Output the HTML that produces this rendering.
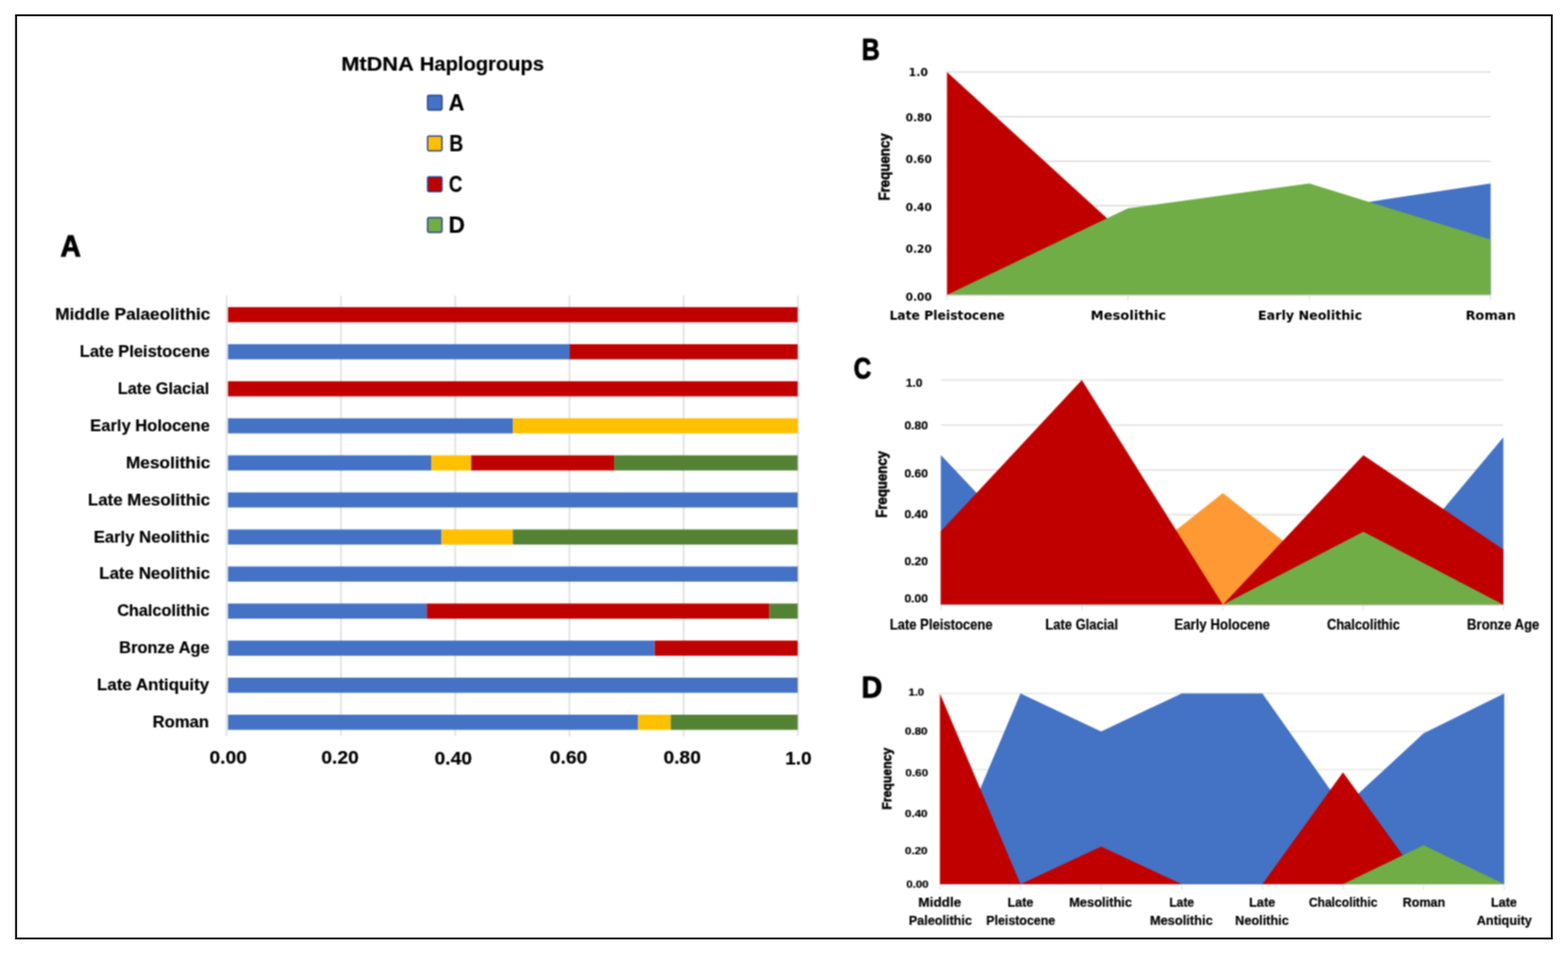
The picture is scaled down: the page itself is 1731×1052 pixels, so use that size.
<!DOCTYPE html>
<html lang="en"><head><meta charset="utf-8"><title>MtDNA Haplogroups</title>
<style>
html,body{margin:0;padding:0;background:#fff;}
body{width:1731px;height:1052px;overflow:hidden;}
svg{display:block;}
text{fill:#000;font-weight:bold;stroke:#000;stroke-width:0.2px;stroke-linejoin:round;}
.l{font-family:"Liberation Sans",sans-serif;}
.f{stroke-width:0.6px;}
.d{font-family:"DejaVu Sans","Liberation Sans",sans-serif;stroke-width:0;}
</style></head><body>
<svg width="1731" height="1052" viewBox="0 0 1731 1052">
<defs><filter id="soft" x="0" y="0" width="1731" height="1052" filterUnits="userSpaceOnUse" color-interpolation-filters="sRGB"><feConvolveMatrix order="3" kernelMatrix="1 2 1 2 4 2 1 2 1" divisor="16" edgeMode="duplicate" preserveAlpha="true"/></filter></defs>
<g filter="url(#soft)">
<rect x="-5" y="-5" width="1741" height="1062" fill="#fff"/>
<text class="l" font-size="21.6"><tspan x="376.7" y="78.3" textLength="79.2" lengthAdjust="spacingAndGlyphs">MtDNA</tspan> <tspan x="463.5" y="78.3" textLength="137.0" lengthAdjust="spacingAndGlyphs">Haplogroups</tspan></text>
<rect x="472.1" y="105.2" width="15.8" height="16.2" rx="1.3" fill="#4472C4" stroke="#223E88" stroke-width="1.5"/>
<text class="l" x="495.3" y="121.9" font-size="25.0" textLength="17.5" lengthAdjust="spacingAndGlyphs">A</text>
<rect x="472.1" y="150.2" width="15.8" height="16.2" rx="1.3" fill="#FFC000" stroke="#223E88" stroke-width="1.5"/>
<text class="l" x="495.9" y="166.9" font-size="25.0" textLength="15.4" lengthAdjust="spacingAndGlyphs">B</text>
<rect x="472.1" y="195.2" width="15.8" height="16.2" rx="1.3" fill="#C00000" stroke="#223E88" stroke-width="1.5"/>
<text class="l" x="495.6" y="211.9" font-size="25.0" textLength="15.0" lengthAdjust="spacingAndGlyphs">C</text>
<rect x="472.1" y="240.2" width="15.8" height="16.2" rx="1.3" fill="#70AD47" stroke="#223E88" stroke-width="1.5"/>
<text class="l" x="495.3" y="256.9" font-size="25.0" textLength="18.0" lengthAdjust="spacingAndGlyphs">D</text>
<text class="l" x="66.7" y="283.0" font-size="34.0" textLength="22.5" lengthAdjust="spacingAndGlyphs" style="stroke-width:1px">A</text>
<text class="l" x="951.2" y="65.9" font-size="34.0" textLength="20.0" lengthAdjust="spacingAndGlyphs" style="stroke-width:1px">B</text>
<text class="l" x="942.5" y="418.1" font-size="34.0" textLength="19.3" lengthAdjust="spacingAndGlyphs" style="stroke-width:1px">C</text>
<text class="l" x="950.9" y="770.3" font-size="34.0" textLength="23.0" lengthAdjust="spacingAndGlyphs" style="stroke-width:1px">D</text>
<line x1="250.3" y1="326.5" x2="250.3" y2="812.5" stroke="#DEDEDE" stroke-width="1.8"/>
<line x1="376.4" y1="326.5" x2="376.4" y2="812.5" stroke="#DEDEDE" stroke-width="1.8"/>
<line x1="502.5" y1="326.5" x2="502.5" y2="812.5" stroke="#DEDEDE" stroke-width="1.8"/>
<line x1="628.6" y1="326.5" x2="628.6" y2="812.5" stroke="#DEDEDE" stroke-width="1.8"/>
<line x1="754.7" y1="326.5" x2="754.7" y2="812.5" stroke="#DEDEDE" stroke-width="1.8"/>
<line x1="880.8" y1="326.5" x2="880.8" y2="812.5" stroke="#DEDEDE" stroke-width="1.8"/>
<rect x="251.7" y="339.05" width="628.9" height="16.7" fill="#C00000"/>
<text class="l" x="61.0" y="353.1" font-size="18.6" textLength="171.1" lengthAdjust="spacingAndGlyphs">Middle Palaeolithic</text>
<rect x="251.7" y="379.95" width="377.3" height="16.7" fill="#4472C4"/>
<rect x="629.0" y="379.95" width="251.6" height="16.7" fill="#C00000"/>
<text class="l" x="88.1" y="394.0" font-size="18.6" textLength="143.6" lengthAdjust="spacingAndGlyphs">Late Pleistocene</text>
<rect x="251.7" y="420.85" width="628.9" height="16.7" fill="#C00000"/>
<text class="l" x="130.0" y="434.9" font-size="18.6" textLength="101.1" lengthAdjust="spacingAndGlyphs">Late Glacial</text>
<rect x="251.7" y="461.75" width="314.5" height="16.7" fill="#4472C4"/>
<rect x="566.2" y="461.75" width="314.5" height="16.7" fill="#FFC000"/>
<text class="l" x="99.6" y="475.8" font-size="18.6" textLength="132.0" lengthAdjust="spacingAndGlyphs">Early Holocene</text>
<rect x="251.7" y="502.65" width="224.5" height="16.7" fill="#4472C4"/>
<rect x="476.2" y="502.65" width="44.0" height="16.7" fill="#FFC000"/>
<rect x="520.2" y="502.65" width="157.9" height="16.7" fill="#C00000"/>
<rect x="678.1" y="502.65" width="202.5" height="16.7" fill="#548235"/>
<text class="l" x="138.9" y="516.7" font-size="18.6" textLength="93.3" lengthAdjust="spacingAndGlyphs">Mesolithic</text>
<rect x="251.7" y="543.55" width="628.9" height="16.7" fill="#4472C4"/>
<text class="l" x="97.0" y="557.6" font-size="18.6" textLength="134.9" lengthAdjust="spacingAndGlyphs">Late Mesolithic</text>
<rect x="251.7" y="584.45" width="235.8" height="16.7" fill="#4472C4"/>
<rect x="487.5" y="584.45" width="78.6" height="16.7" fill="#FFC000"/>
<rect x="566.2" y="584.45" width="314.5" height="16.7" fill="#548235"/>
<text class="l" x="103.4" y="598.5" font-size="18.6" textLength="128.0" lengthAdjust="spacingAndGlyphs">Early Neolithic</text>
<rect x="251.7" y="625.35" width="628.9" height="16.7" fill="#4472C4"/>
<text class="l" x="109.6" y="639.4" font-size="18.6" textLength="122.3" lengthAdjust="spacingAndGlyphs">Late Neolithic</text>
<rect x="251.7" y="666.25" width="219.5" height="16.7" fill="#4472C4"/>
<rect x="471.2" y="666.25" width="378.0" height="16.7" fill="#C00000"/>
<rect x="849.2" y="666.25" width="31.4" height="16.7" fill="#548235"/>
<text class="l" x="129.4" y="680.3" font-size="18.6" textLength="101.9" lengthAdjust="spacingAndGlyphs">Chalcolithic</text>
<rect x="251.7" y="707.15" width="471.0" height="16.7" fill="#4472C4"/>
<rect x="722.7" y="707.15" width="157.9" height="16.7" fill="#C00000"/>
<text class="l" x="131.6" y="721.2" font-size="18.6" textLength="99.8" lengthAdjust="spacingAndGlyphs">Bronze Age</text>
<rect x="251.7" y="748.05" width="628.9" height="16.7" fill="#4472C4"/>
<text class="l" x="107.1" y="762.1" font-size="18.6" textLength="123.8" lengthAdjust="spacingAndGlyphs">Late Antiquity</text>
<rect x="251.7" y="788.95" width="452.8" height="16.7" fill="#4472C4"/>
<rect x="704.5" y="788.95" width="35.8" height="16.7" fill="#FFC000"/>
<rect x="740.4" y="788.95" width="140.2" height="16.7" fill="#548235"/>
<text class="l" x="168.6" y="803.0" font-size="18.6" textLength="62.1" lengthAdjust="spacingAndGlyphs">Roman</text>
<text class="l" x="231.2" y="842.6" font-size="20.8" textLength="41.3" lengthAdjust="spacingAndGlyphs">0.00</text>
<text class="l" x="354.8" y="842.6" font-size="20.8" textLength="41.3" lengthAdjust="spacingAndGlyphs">0.20</text>
<text class="l" x="479.7" y="843.6" font-size="20.8" textLength="41.3" lengthAdjust="spacingAndGlyphs">0.40</text>
<text class="l" x="607.0" y="842.6" font-size="20.8" textLength="41.3" lengthAdjust="spacingAndGlyphs">0.60</text>
<text class="l" x="732.4" y="842.6" font-size="20.8" textLength="41.3" lengthAdjust="spacingAndGlyphs">0.80</text>
<text class="l" x="866.7" y="843.5" font-size="20.8" textLength="29.4" lengthAdjust="spacingAndGlyphs">1.0</text>
<line x1="1045.4" y1="79.5" x2="1645.6" y2="79.5" stroke="#D9D9D9" stroke-width="1.5"/>
<line x1="1045.4" y1="128.7" x2="1645.6" y2="128.7" stroke="#D9D9D9" stroke-width="1.5"/>
<line x1="1045.4" y1="177.9" x2="1645.6" y2="177.9" stroke="#D9D9D9" stroke-width="1.5"/>
<line x1="1045.4" y1="227.0" x2="1645.6" y2="227.0" stroke="#D9D9D9" stroke-width="1.5"/>
<line x1="1045.4" y1="276.2" x2="1645.6" y2="276.2" stroke="#D9D9D9" stroke-width="1.5"/>
<line x1="1045.4" y1="325.4" x2="1645.6" y2="325.4" stroke="#D9D9D9" stroke-width="1.5"/>
<line x1="1045.4" y1="325.4" x2="1045.4" y2="331.4" stroke="#DDDDDD" stroke-width="1.3"/>
<line x1="1245.1" y1="325.4" x2="1245.1" y2="331.4" stroke="#DDDDDD" stroke-width="1.3"/>
<line x1="1445.4" y1="325.4" x2="1445.4" y2="331.4" stroke="#DDDDDD" stroke-width="1.3"/>
<line x1="1645.6" y1="325.4" x2="1645.6" y2="331.4" stroke="#DDDDDD" stroke-width="1.3"/>
<path d="M1045.4,325.4 L1045.4,325.4 L1245.1,236.9 L1445.4,232.9 L1645.6,202.4 L1645.6,325.4Z" fill="#4472C4"/>
<path d="M1045.4,325.4 L1045.4,79.5 L1245.1,262.0 L1445.4,325.4 L1445.4,325.4Z" fill="#C00000"/>
<path d="M1045.4,325.4 L1045.4,325.4 L1245.1,230.0 L1445.4,202.4 L1645.6,264.4 L1645.6,325.4Z" fill="#70AD47"/>
<line x1="1045.4" y1="325.9" x2="1645.6" y2="325.9" stroke="#D9D9D9" stroke-width="1.2"/>
<text class="d" x="1003.0" y="83.7" font-size="11.6" textLength="21.5" lengthAdjust="spacingAndGlyphs">1.0</text>
<text class="d" x="999.7" y="133.6" font-size="11.6" textLength="29.1" lengthAdjust="spacingAndGlyphs">0.80</text>
<text class="d" x="999.7" y="179.8" font-size="11.6" textLength="29.1" lengthAdjust="spacingAndGlyphs">0.60</text>
<text class="d" x="999.7" y="232.9" font-size="11.6" textLength="29.1" lengthAdjust="spacingAndGlyphs">0.40</text>
<text class="d" x="999.7" y="279.3" font-size="11.6" textLength="29.1" lengthAdjust="spacingAndGlyphs">0.20</text>
<text class="d" x="999.7" y="331.7" font-size="11.6" textLength="29.1" lengthAdjust="spacingAndGlyphs">0.00</text>
<text class="d" x="981.9" y="353.1" font-size="13.8" textLength="127.5" lengthAdjust="spacingAndGlyphs">Late Pleistocene</text>
<text class="d" x="1204.1" y="353.1" font-size="13.8" textLength="83.2" lengthAdjust="spacingAndGlyphs">Mesolithic</text>
<text class="d" x="1388.8" y="353.1" font-size="13.8" textLength="114.9" lengthAdjust="spacingAndGlyphs">Early Neolithic</text>
<text class="d" x="1617.9" y="353.1" font-size="13.8" textLength="55.4" lengthAdjust="spacingAndGlyphs">Roman</text>
<text class="l f" font-size="16.6" textLength="74.2" lengthAdjust="spacingAndGlyphs" transform="translate(982 221.3) rotate(-90)">Frequency</text>
<line x1="1038.6" y1="419.6" x2="1659.6" y2="419.6" stroke="#E0E0E0" stroke-width="1.5"/>
<line x1="1038.6" y1="469.2" x2="1659.6" y2="469.2" stroke="#E0E0E0" stroke-width="1.5"/>
<line x1="1038.6" y1="518.8" x2="1659.6" y2="518.8" stroke="#E0E0E0" stroke-width="1.5"/>
<line x1="1038.6" y1="568.3" x2="1659.6" y2="568.3" stroke="#E0E0E0" stroke-width="1.5"/>
<line x1="1038.6" y1="617.9" x2="1659.6" y2="617.9" stroke="#E0E0E0" stroke-width="1.5"/>
<line x1="1038.6" y1="667.5" x2="1659.6" y2="667.5" stroke="#E0E0E0" stroke-width="1.5"/>
<line x1="1038.6" y1="667.5" x2="1038.6" y2="673.5" stroke="#E2E2E2" stroke-width="1.3"/>
<line x1="1194.3" y1="667.5" x2="1194.3" y2="673.5" stroke="#E2E2E2" stroke-width="1.3"/>
<line x1="1350.0" y1="667.5" x2="1350.0" y2="673.5" stroke="#E2E2E2" stroke-width="1.3"/>
<line x1="1505.1" y1="667.5" x2="1505.1" y2="673.5" stroke="#E2E2E2" stroke-width="1.3"/>
<line x1="1659.6" y1="667.5" x2="1659.6" y2="673.5" stroke="#E2E2E2" stroke-width="1.3"/>
<path d="M1038.6,667.5 L1038.6,502.2 L1194.3,667.5 L1194.3,667.5Z" fill="#4472C4"/>
<path d="M1505.1,667.5 L1505.1,667.5 L1659.6,482.8 L1659.6,667.5Z" fill="#4472C4"/>
<path d="M1194.3,667.5 L1194.3,667.5 L1350.0,544.3 L1505.1,667.5 L1505.1,667.5Z" fill="#FF9933"/>
<path d="M1038.6,667.5 L1038.6,586.4 L1194.3,419.6 L1350.0,667.5 L1505.1,502.4 L1659.6,606.5 L1659.6,667.5Z" fill="#C00000"/>
<path d="M1350.0,667.5 L1350.0,667.5 L1505.1,586.9 L1659.6,667.5 L1659.6,667.5Z" fill="#70AD47"/>
<line x1="1038.6" y1="668.0" x2="1659.6" y2="668.0" stroke="#E0E0E0" stroke-width="1.2"/>
<text class="l" x="1000.0" y="426.6" font-size="12.7" textLength="18.4" lengthAdjust="spacingAndGlyphs">1.0</text>
<text class="l" x="998.4" y="474.1" font-size="12.7" textLength="26.1" lengthAdjust="spacingAndGlyphs">0.80</text>
<text class="l" x="998.4" y="527.1" font-size="12.7" textLength="26.1" lengthAdjust="spacingAndGlyphs">0.60</text>
<text class="l" x="998.4" y="572.4" font-size="12.7" textLength="26.1" lengthAdjust="spacingAndGlyphs">0.40</text>
<text class="l" x="998.4" y="624.4" font-size="12.7" textLength="26.1" lengthAdjust="spacingAndGlyphs">0.20</text>
<text class="l" x="998.4" y="665.1" font-size="12.7" textLength="26.1" lengthAdjust="spacingAndGlyphs">0.00</text>
<text class="l" x="982.2" y="695.3" font-size="16.2" textLength="113.6" lengthAdjust="spacingAndGlyphs">Late Pleistocene</text>
<text class="l" x="1154.1" y="695.3" font-size="16.2" textLength="80.1" lengthAdjust="spacingAndGlyphs">Late Glacial</text>
<text class="l" x="1296.5" y="695.3" font-size="16.2" textLength="105.5" lengthAdjust="spacingAndGlyphs">Early Holocene</text>
<text class="l" x="1464.9" y="695.3" font-size="16.2" textLength="80.5" lengthAdjust="spacingAndGlyphs">Chalcolithic</text>
<text class="l" x="1619.6" y="695.3" font-size="16.2" textLength="79.7" lengthAdjust="spacingAndGlyphs">Bronze Age</text>
<text class="l f" font-size="15.8" textLength="73.6" lengthAdjust="spacingAndGlyphs" transform="translate(978.6 571.5) rotate(-90)">Frequency</text>
<line x1="1037.6" y1="765.4" x2="1660.6" y2="765.4" stroke="#E6E6E6" stroke-width="1.5"/>
<line x1="1037.6" y1="807.5" x2="1660.6" y2="807.5" stroke="#E6E6E6" stroke-width="1.5"/>
<line x1="1037.6" y1="849.6" x2="1660.6" y2="849.6" stroke="#E6E6E6" stroke-width="1.5"/>
<line x1="1037.6" y1="891.8" x2="1660.6" y2="891.8" stroke="#E6E6E6" stroke-width="1.5"/>
<line x1="1037.6" y1="933.9" x2="1660.6" y2="933.9" stroke="#E6E6E6" stroke-width="1.5"/>
<line x1="1037.6" y1="976.0" x2="1660.6" y2="976.0" stroke="#E6E6E6" stroke-width="1.5"/>
<line x1="1037.6" y1="976.0" x2="1037.6" y2="982.0" stroke="#E4E4E4" stroke-width="1.3"/>
<line x1="1126.6" y1="976.0" x2="1126.6" y2="982.0" stroke="#E4E4E4" stroke-width="1.3"/>
<line x1="1215.6" y1="976.0" x2="1215.6" y2="982.0" stroke="#E4E4E4" stroke-width="1.3"/>
<line x1="1304.6" y1="976.0" x2="1304.6" y2="982.0" stroke="#E4E4E4" stroke-width="1.3"/>
<line x1="1393.6" y1="976.0" x2="1393.6" y2="982.0" stroke="#E4E4E4" stroke-width="1.3"/>
<line x1="1482.6" y1="976.0" x2="1482.6" y2="982.0" stroke="#E4E4E4" stroke-width="1.3"/>
<line x1="1571.6" y1="976.0" x2="1571.6" y2="982.0" stroke="#E4E4E4" stroke-width="1.3"/>
<line x1="1660.6" y1="976.0" x2="1660.6" y2="982.0" stroke="#E4E4E4" stroke-width="1.3"/>
<path d="M1037.6,976.0 L1037.6,976.0 L1126.6,765.4 L1215.6,807.5 L1304.6,765.4 L1393.6,765.4 L1482.6,891.8 L1571.6,809.6 L1660.6,765.4 L1660.6,976.0Z" fill="#4472C4"/>
<path d="M1037.6,976.0 L1037.6,765.4 L1126.6,976.0 L1215.6,934.5 L1304.6,976.0 L1304.6,976.0Z" fill="#C00000"/>
<path d="M1393.6,976.0 L1393.6,976.0 L1482.6,852.4 L1571.6,976.0 L1571.6,976.0Z" fill="#C00000"/>
<path d="M1482.6,976.0 L1482.6,976.0 L1571.6,933.0 L1660.6,976.0 L1660.6,976.0Z" fill="#70AD47"/>
<line x1="1037.6" y1="976.5" x2="1660.6" y2="976.5" stroke="#E6E6E6" stroke-width="1.2"/>
<text class="l" x="1003.1" y="768.3" font-size="11.4" textLength="17.1" lengthAdjust="spacingAndGlyphs">1.0</text>
<text class="l" x="999.0" y="811.0" font-size="11.4" textLength="25.0" lengthAdjust="spacingAndGlyphs">0.80</text>
<text class="l" x="999.6" y="856.7" font-size="11.4" textLength="25.0" lengthAdjust="spacingAndGlyphs">0.60</text>
<text class="l" x="999.0" y="901.5" font-size="11.4" textLength="25.0" lengthAdjust="spacingAndGlyphs">0.40</text>
<text class="l" x="999.0" y="942.8" font-size="11.4" textLength="25.0" lengthAdjust="spacingAndGlyphs">0.20</text>
<text class="l" x="1000.4" y="980.0" font-size="11.4" textLength="24.8" lengthAdjust="spacingAndGlyphs">0.00</text>
<text class="l" x="1013.8" y="1001.4" font-size="13.8" textLength="47.4" lengthAdjust="spacingAndGlyphs">Middle</text>
<text class="l" x="1003.3" y="1021.4" font-size="13.8" textLength="69.6" lengthAdjust="spacingAndGlyphs">Paleolithic</text>
<text class="l" x="1112.3" y="1001.4" font-size="13.8" textLength="28.5" lengthAdjust="spacingAndGlyphs">Late</text>
<text class="l" x="1088.8" y="1021.4" font-size="13.8" textLength="76.1" lengthAdjust="spacingAndGlyphs">Pleistocene</text>
<text class="l" x="1180.3" y="1001.4" font-size="13.8" textLength="69.4" lengthAdjust="spacingAndGlyphs">Mesolithic</text>
<text class="l" x="1291.0" y="1001.4" font-size="13.8" textLength="27.1" lengthAdjust="spacingAndGlyphs">Late</text>
<text class="l" x="1269.4" y="1021.4" font-size="13.8" textLength="69.4" lengthAdjust="spacingAndGlyphs">Mesolithic</text>
<text class="l" x="1379.1" y="1001.4" font-size="13.8" textLength="28.7" lengthAdjust="spacingAndGlyphs">Late</text>
<text class="l" x="1363.5" y="1021.4" font-size="13.8" textLength="59.3" lengthAdjust="spacingAndGlyphs">Neolithic</text>
<text class="l" x="1444.9" y="1001.4" font-size="13.8" textLength="75.7" lengthAdjust="spacingAndGlyphs">Chalcolithic</text>
<text class="l" x="1548.6" y="1001.4" font-size="13.8" textLength="46.8" lengthAdjust="spacingAndGlyphs">Roman</text>
<text class="l" x="1645.9" y="1001.4" font-size="13.8" textLength="28.7" lengthAdjust="spacingAndGlyphs">Late</text>
<text class="l" x="1630.2" y="1021.4" font-size="13.8" textLength="61.0" lengthAdjust="spacingAndGlyphs">Antiquity</text>
<text class="l f" font-size="14.2" textLength="68.2" lengthAdjust="spacingAndGlyphs" transform="translate(984.3 893.8) rotate(-90)">Frequency</text>
</g>
<rect x="17.7" y="16.85" width="1695.45" height="1019.1" fill="none" stroke="#000" stroke-width="2.1"/>
</svg>
</body></html>
